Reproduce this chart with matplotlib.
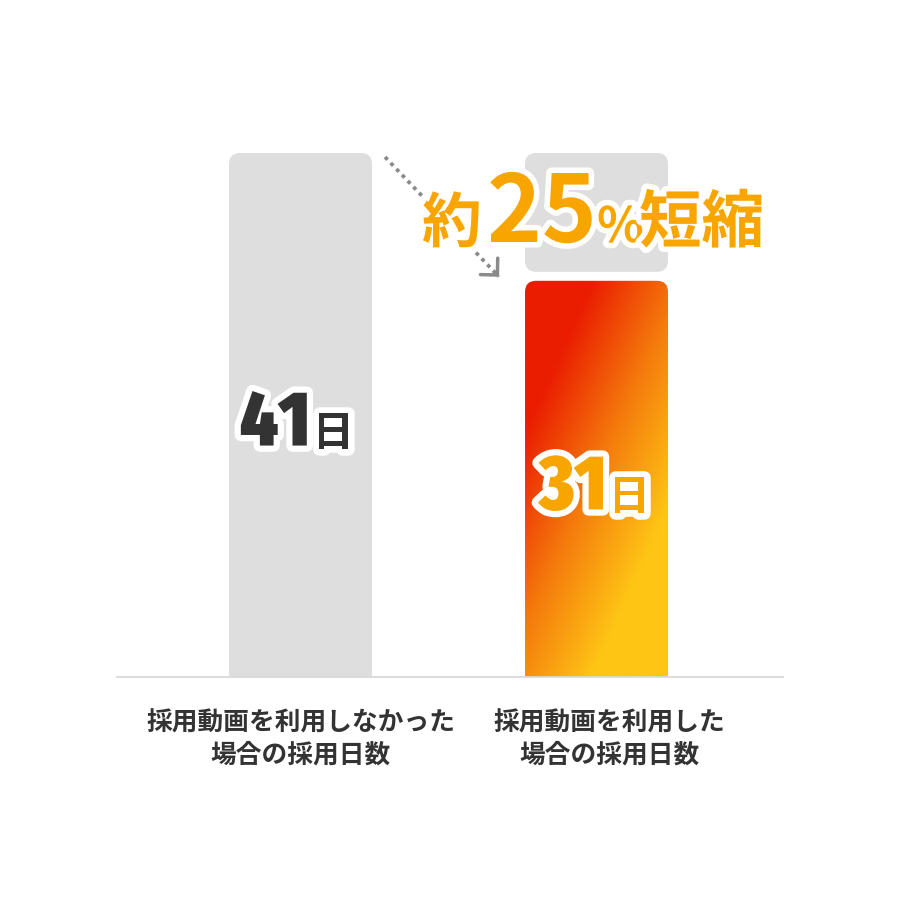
import numpy as np
import matplotlib.pyplot as plt
import matplotlib.patheffects as pe
from matplotlib import font_manager as fm
from matplotlib.patches import FancyBboxPatch
from matplotlib.colors import LinearSegmentedColormap

# data
categories = ['採用動画を利用しなかった\n場合の採用日数', '採用動画を利用した\n場合の採用日数']
days = [41, 31]
unit = '日'
headline = ['約', '25', '%', '短縮']

plt.rcParams['font.family'] = ['Noto Sans CJK JP', 'DejaVu Sans']

# pick the heaviest narrow font that is installed for the big numbers
narrow = [f for f in fm.fontManager.ttflist
          if f.stretch != 'normal' and 'expand' not in str(f.stretch)
          or any(k in f.name for k in ('Condensed', 'Narrow'))]


def _wt(f):
    w = f.weight
    if isinstance(w, str):
        w = {'bold': 700, 'black': 900, 'heavy': 900}.get(w, 400)
    return w


if narrow:
    best = max(narrow, key=lambda f: (_wt(f), 'Extra' in f.name or 'extra' in str(f.stretch)))
    num_font = fm.FontProperties(fname=best.fname)
else:
    num_font = fm.FontProperties(family='DejaVu Sans', weight='bold', stretch='condensed')

fig = plt.figure(figsize=(9, 9), dpi=100)
ax = fig.add_axes([117 / 900, 223 / 900, 666 / 900, 577 / 900])
ax.set_xlim(-0.62, 1.63)
ax.set_ylim(0, max(days) * 577 / 524)

px_x = 666 / 2.25
px_y = 577 / ax.get_ylim()[1]
w = 0.483
r = 11 / px_x
asp = px_x / px_y
gap = 9 / px_y
grey = '#DEDEDE'
orange = '#F8A500'


def rbox(x0, y0, bw, bh, **kw):
    p = FancyBboxPatch((x0, y0), bw, bh,
                       boxstyle=f'round,pad=0,rounding_size={r}',
                       mutation_aspect=asp, **kw)
    ax.add_patch(p)
    return p


# left bar (before)
rbox(0 - w / 2, -2, w, days[0] + 2, fc=grey, ec='none', zorder=2)
# ghost of old value above the new bar
rbox(1 - w / 2, days[1] + gap, w, days[0] - days[1] - gap, fc=grey, ec='none', zorder=2)
# new bar with gradient
clip = rbox(1 - w / 2, -2, w, days[1] + 2, fc='none', ec='none', zorder=2)
bw_px = w * px_x
bh_px = days[1] * px_y
u = np.linspace(0, bw_px, 200)
v = np.linspace(0, bh_px, 500)
U, V = np.meshgrid(u, v)
t = np.clip(((U * 149 + V * 68) / 163.8 - 62) / 163, 0, 1)
cmap = LinearSegmentedColormap.from_list('grad', ['#EA1D00', '#F47A0C', '#FEC515'])
im = ax.imshow(t, cmap=cmap, extent=(1 - w / 2, 1 + w / 2, 0, days[1]),
               aspect='auto', origin='upper', interpolation='bilinear', zorder=2)
im.set_clip_path(clip)
ax.set_xlim(-0.62, 1.63)
ax.set_ylim(0, max(days) * 577 / 524)

# axis styling
for s in ['top', 'left', 'right']:
    ax.spines[s].set_visible(False)
ax.spines['bottom'].set_color('#D9D9D9')
ax.spines['bottom'].set_linewidth(1.3)
ax.set_xticks([])
ax.set_yticks([])
ax.patch.set_alpha(0)

# category labels
for i, (lab, dx) in enumerate(zip(categories, [0, 9.4])):
    ax.annotate(lab, xy=(i, 0), xycoords=ax.get_xaxis_transform(),
                xytext=(dx, -23.5), textcoords='offset points',
                ha='center', va='top', fontsize=18.5, fontweight='bold',
                color='#333333', linespacing=1.25)

# value labels
stroke = [pe.withStroke(linewidth=9, foreground='white')]
for i, (d, col) in enumerate(zip(days, ['#333333', orange])):
    ax.annotate(str(d), xy=(i, d / 2), xytext=(7, -22), textcoords='offset points',
                ha='right', va='baseline', fontsize=56, fontproperties=num_font,
                color=col, path_effects=stroke, zorder=5)
    ax.annotate(unit, xy=(i, d / 2), xytext=(8.5, -22), textcoords='offset points',
                ha='left', va='baseline', fontsize=30, fontweight='bold',
                color=col, path_effects=stroke, zorder=5)

# dotted arrow from old to new height
start = (0 + w / 2 + 13 / px_x, days[0] - 4 / px_y)
end = (1 - w / 2 - 26 / px_x, days[1] + 4 / px_y)
ax.plot([start[0], end[0]], [start[1], end[1]], color='#8A8A8A', lw=2.7,
        ls=(0, (1, 1.2)), zorder=3, clip_on=False)
step = 0.02
ax.annotate('', xy=end,
            xytext=(end[0] - step * (end[0] - start[0]), end[1] - step * (end[1] - start[1])),
            arrowprops=dict(arrowstyle='->,head_length=0.43,head_width=0.43',
                            color='#8A8A8A', lw=2.5, mutation_scale=20,
                            shrinkA=0, shrinkB=0),
            zorder=3)

# headline
hstroke = [pe.withStroke(linewidth=8, foreground='white')]
for txt, xp, fs in zip(headline, [422, 487, 597, 639], [43, 67, 35, 45]):
    fig.text(xp / 900, 1 - 242 / 900, txt, ha='left', va='baseline',
             fontsize=fs, fontweight='bold', color=orange,
             path_effects=hstroke, zorder=6)

fig.savefig('out.png', dpi=100)
